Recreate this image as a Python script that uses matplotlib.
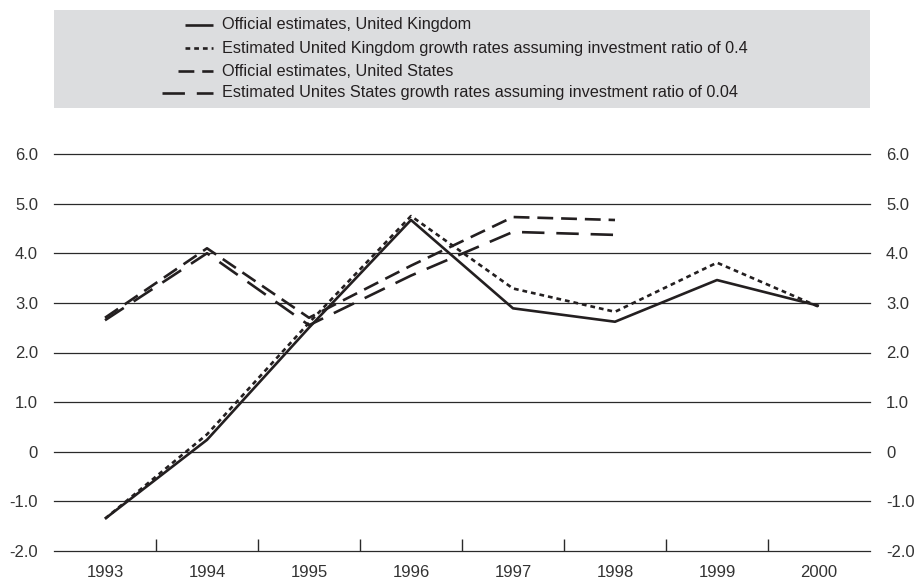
import matplotlib
matplotlib.use('Agg')
import matplotlib.pyplot as plt
from matplotlib.lines import Line2D
from matplotlib.patches import Rectangle
from matplotlib.ticker import FixedLocator, FuncFormatter

plt.rcParams['font.family'] = ['Liberation Sans', 'DejaVu Sans']

years = ['1993', '1994', '1995', '1996', '1997', '1998', '1999', '2000']
uk_official = [-1.35, 0.24, 2.5, 4.67, 2.89, 2.62, 3.46, 2.94]
uk_estimated = [-1.35, 0.35, 2.6, 4.75, 3.29, 2.82, 3.81, 2.92]
us_official = [2.7, 4.1, 2.7, 3.75, 4.73, 4.67]
us_estimated = [2.65, 4.0, 2.55, 3.55, 4.43, 4.37]

labels = ['Official estimates, United Kingdom',
          'Estimated United Kingdom growth rates assuming investment ratio of 0.4',
          'Official estimates, United States',
          'Estimated Unites States growth rates assuming investment ratio of 0.04']

ink = '#231f20'
W, H = 915, 580
fig = plt.figure(figsize=(W / 100, H / 100), dpi=100)
ax = fig.add_axes([54 / W, 29 / H, (870 - 54) / W, (551 - 154) / H])

lw = 1.9
styles = ['-', (0, (1.8, 1.5)), (0, (6, 3)), (0, (8.5, 4.5))]
series = [uk_official, uk_estimated, us_official, us_estimated]
for vals, ls in zip(series, styles):
    ax.plot(range(len(vals)), vals, color=ink, lw=lw, linestyle=ls,
            solid_capstyle='butt', dash_capstyle='butt', clip_on=False)

ax.set_xlim(-0.5, len(years) - 0.5)
ax.set_ylim(-2, 6)
yt = list(range(-2, 7))
for y in yt:
    ax.axhline(y, color='#2a2a2a', lw=0.9, zorder=0, clip_on=False)

ax.set_yticks(yt)
ax.yaxis.set_major_formatter(FuncFormatter(lambda v, p: '0' if v == 0 else f'{v:.1f}'))
ax.tick_params(axis='y', length=0, pad=11.5, labelleft=True, labelright=True,
               labelsize=12, labelcolor='#333333')

ax.set_xticks(range(len(years)))
ax.set_xticklabels(years)
ax.xaxis.set_minor_locator(FixedLocator([i + 0.5 for i in range(len(years) - 1)]))
ax.tick_params(axis='x', which='major', length=0, pad=10, labelsize=12, labelcolor='#333333')
ax.tick_params(axis='x', which='minor', direction='in', length=8.6, width=1, color='#2a2a2a')

for s in ax.spines.values():
    s.set_visible(False)

# legend panel
fig.patches.append(Rectangle((54 / W, 1 - 108 / H), (870 - 54) / W, 98 / H,
                             transform=fig.transFigure, facecolor='#dcdddf',
                             edgecolor='none', zorder=0))
rows = [25, 48, 71, 93]
starts = [185, 185, 178, 162]
for lab, ls, y, x0 in zip(labels, styles, rows, starts):
    fy = 1 - y / H
    fig.add_artist(Line2D([x0 / W, 213 / W], [fy, fy], transform=fig.transFigure,
                          color=ink, lw=lw, linestyle=ls, dash_capstyle='butt',
                          solid_capstyle='butt'))
    fig.text(222 / W, fy, lab, va='center', ha='left', fontsize=11.7, color=ink)

fig.savefig('out.png', dpi=100)
